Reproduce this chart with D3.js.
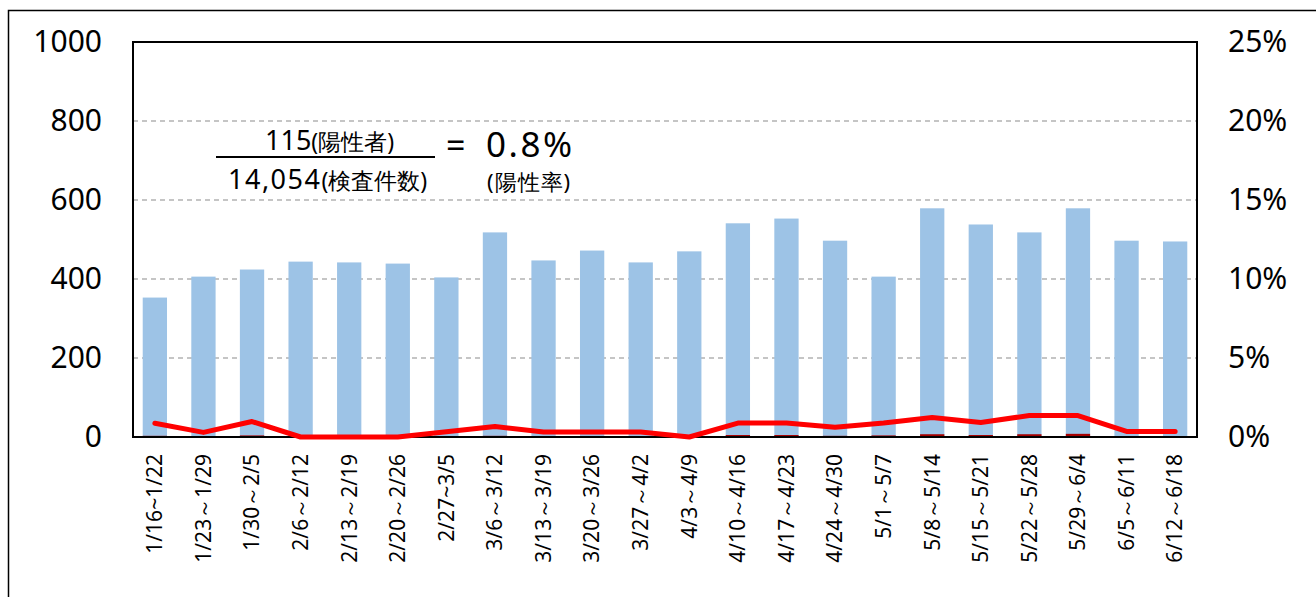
<!DOCTYPE html>
<html><head><meta charset="utf-8">
<script src="https://cdn.jsdelivr.net/npm/d3@7"></script>
<style>body{margin:0;background:#fff}</style>
</head><body><svg id="c" width="1316" height="597"></svg>
<script>
const categories = ["1/16~1/22","1/23～1/29","1/30～2/5","2/6～2/12","2/13～2/19","2/20～2/26","2/27~3/5","3/6～3/12","3/13～3/19","3/20～3/26","3/27～4/2","4/3～4/9","4/10～4/16","4/17～4/23","4/24～4/30","5/1～5/7","5/8～5/14","5/15～5/21","5/22～5/28","5/29～6/4","6/5～6/11","6/12～6/18"];
const tests = [353,406,424,444,442,439,404,518,447,472,442,470,541,553,497,406,579,538,518,579,497,495];
const positives = [3,1,4,0,0,0,1,3,1,1,1,0,5,5,3,4,7,5,7,8,2,2];
const rates = [0.87,0.29,0.98,0,0,0,0.33,0.67,0.31,0.31,0.31,0,0.88,0.88,0.61,0.88,1.23,0.92,1.36,1.36,0.35,0.35];
const leftTicks = [0,200,400,600,800,1000];
const rightTicks = [0,5,10,15,20,25];

const svg = d3.select("#c");
const L = 133, R = 1197, T = 42, B = 437;
const font = "'Noto Sans', sans-serif";

svg.append("rect").attr("x",8.5).attr("y",10.5).attr("width",1400).attr("height",700)
  .attr("fill","none").attr("stroke","#000").attr("stroke-width",1.5);

const x = d3.scaleBand().domain(categories).range([L,R]).paddingInner(0.5).paddingOuter(0.2);
const y = d3.scaleLinear().domain([0,1000]).range([B,T]);
const y2 = d3.scaleLinear().domain([0,25]).range([B,T]);

// gridlines
svg.append("g").selectAll("line").data(leftTicks.filter(d=>d>0 && d<1000)).join("line")
  .attr("x1",L).attr("x2",R).attr("y1",d=>y(d)).attr("y2",d=>y(d))
  .attr("stroke","#8c8c8c").attr("stroke-width",1.2).attr("stroke-dasharray","5,4");

// bars
svg.append("g").selectAll("rect").data(tests).join("rect")
  .attr("x",(d,i)=>x(categories[i])).attr("width",x.bandwidth())
  .attr("y",d=>y(d)).attr("height",d=>B-y(d)).attr("fill","#9dc3e6");
svg.append("g").selectAll("rect").data(positives).join("rect")
  .attr("x",(d,i)=>x(categories[i])).attr("width",x.bandwidth())
  .attr("y",d=>y(d)).attr("height",d=>B-y(d)).attr("fill","#a50000");

// frame
svg.append("rect").attr("x",L).attr("y",T).attr("width",R-L).attr("height",B-T)
  .attr("fill","none").attr("stroke","#000").attr("stroke-width",2);

// line
const line = d3.line().x((d,i)=>x(categories[i])+x.bandwidth()/2).y(d=>y2(d));
svg.append("path").datum(rates).attr("d",line).attr("fill","none")
  .attr("stroke","#ff0000").attr("stroke-width",5).attr("stroke-linecap","round").attr("stroke-linejoin","round");

// axes
const ax = svg.append("g").attr("transform",`translate(${L},0)`)
  .call(d3.axisLeft(y).tickValues(leftTicks).tickSize(0).tickPadding(31).tickFormat(d3.format("d")));
const ax2 = svg.append("g").attr("transform",`translate(${R},0)`)
  .call(d3.axisRight(y2).tickValues(rightTicks).tickSize(0).tickPadding(31).tickFormat(d=>d+"%"));
[ax,ax2].forEach(a=>{a.select(".domain").remove();
  a.selectAll("text").attr("font-family",font).attr("font-size",30).attr("fill","#000");});

const axb = svg.append("g").attr("transform",`translate(0,${B})`)
  .call(d3.axisBottom(x).tickSize(0).tickPadding(0));
axb.select(".domain").remove();
axb.selectAll("text").attr("font-family",font).attr("font-size",21).attr("fill","#000")
  .attr("transform","rotate(-90)").attr("text-anchor","end").attr("dy","0.35em")
  .attr("x",-17).attr("y",0);

// annotation
const ann = svg.append("g").attr("font-family",font).attr("fill","#000");
const t1 = ann.append("text").attr("x",265).attr("y",150);
t1.append("tspan").attr("font-size",27).text("115");
t1.append("tspan").attr("font-size",23).text("(陽性者)");
ann.append("line").attr("x1",216).attr("x2",435).attr("y1",157).attr("y2",157).attr("stroke","#000").attr("stroke-width",2);
const t2 = ann.append("text").attr("x",228).attr("y",189);
t2.append("tspan").attr("font-size",27).attr("letter-spacing",1.5).text("14,054");
t2.append("tspan").attr("font-size",23).text("(検査件数)");
ann.append("text").attr("x",446).attr("y",158).attr("font-size",34).text("=");
ann.append("text").attr("x",486).attr("y",157).attr("font-size",35).attr("letter-spacing",2.5).text("0.8%");
ann.append("text").attr("x",487).attr("y",190).attr("font-size",22).attr("letter-spacing",1).text("(陽性率)");
</script></body></html>
